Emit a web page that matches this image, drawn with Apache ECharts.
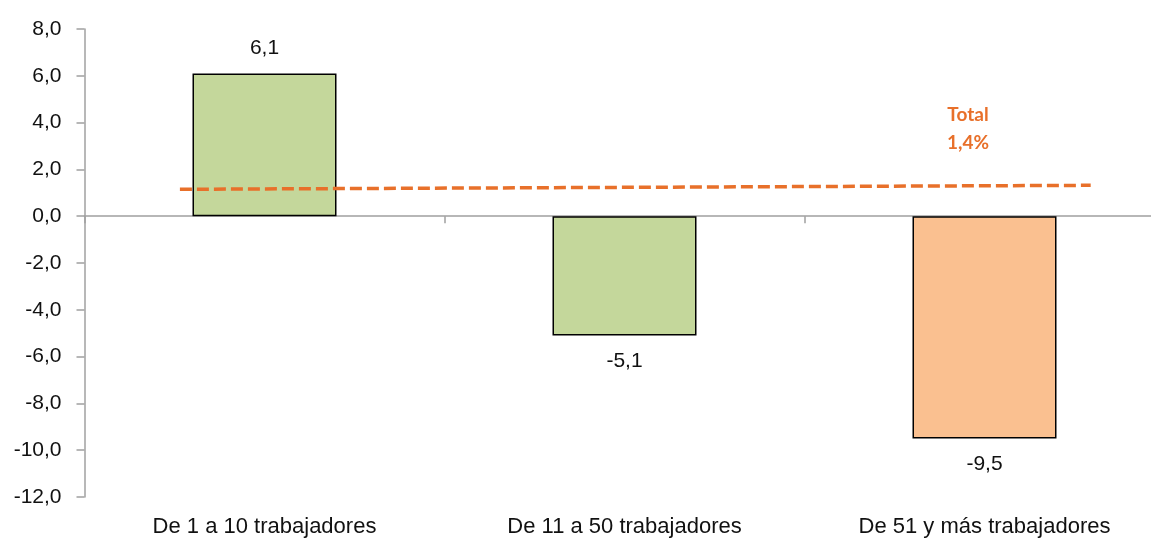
<!DOCTYPE html>
<html><head><meta charset="utf-8">
<script src="https://cdn.jsdelivr.net/npm/echarts@6/dist/echarts.min.js"></script>
<style>html,body{margin:0;padding:0;background:#fff;overflow:hidden;width:1151px;height:539px}#c{width:1166px;height:539px}</style>
</head><body><div id="c"></div>
<script>
const categories = ['De 1 a 10 trabajadores', 'De 11 a 50 trabajadores', 'De 51 y más trabajadores'];
const values = [6.1, -5.1, -9.5];
const barColors = ['#C4D79B', '#C4D79B', '#FAC090'];
const totalLinePoints = [[0.265, 1.15], [2.795, 1.32]];
const totalLabel = 'Total\n1,4%';
const yMin = -12, yMax = 8, yStep = 2;

const fmt = v => v.toFixed(1).replace('.', ',');
const chart = echarts.init(document.getElementById('c'));
chart.setOption({
  animation: false,
  grid: { left: 84.5, right: 1.5, top: 29, bottom: 42, containLabel: false },
  xAxis: [
    { type: 'category', data: categories, position: 'bottom',
      axisLine: { onZero: true, lineStyle: { color: '#a0a0a0', width: 1.5 } },
      axisTick: { show: true, length: 7, lineStyle: { color: '#a0a0a0', width: 1.5 } },
      axisLabel: { show: false }, splitLine: { show: false } },
    { type: 'category', data: categories, position: 'bottom',
      axisLine: { show: false, onZero: false }, axisTick: { show: false },
      axisLabel: { show: true, margin: 19, fontFamily: 'Liberation Sans', fontSize: 22, color: '#111' } },
    { type: 'value', min: 0, max: 3, show: false, position: 'top' }
  ],
  yAxis: {
    type: 'value', min: yMin, max: yMax, interval: yStep,
    axisLine: { show: true, lineStyle: { color: '#a0a0a0', width: 1.5 } },
    axisTick: { show: true, length: 8, lineStyle: { color: '#a0a0a0', width: 1.5 } },
    splitLine: { show: false },
    axisLabel: { formatter: fmt, margin: 23, fontFamily: 'Liberation Sans', fontSize: 21, color: '#111' }
  },
  series: [
    { type: 'bar', xAxisIndex: 0, barWidth: '40%',
      data: values.map((v, i) => ({ value: v,
        itemStyle: { color: barColors[i], borderColor: '#000', borderWidth: 1.5 },
        label: { show: true, position: v >= 0 ? 'top' : 'bottom', distance: 15,
          formatter: p => fmt(p.value), fontFamily: 'Liberation Sans', fontSize: 21, color: '#111' } })) },
    { type: 'line', xAxisIndex: 2, data: totalLinePoints, symbol: 'none', z: 5,
      lineStyle: { color: '#E8702A', width: 3.5, type: [12, 5] } }
  ],
  graphic: [{ type: 'text', x: 968, y: 101, style: { text: totalLabel, textAlign: 'center',
    fill: '#E8702A', font: 'bold 19px Lato', lineHeight: 28 } }]
});
</script></body></html>
